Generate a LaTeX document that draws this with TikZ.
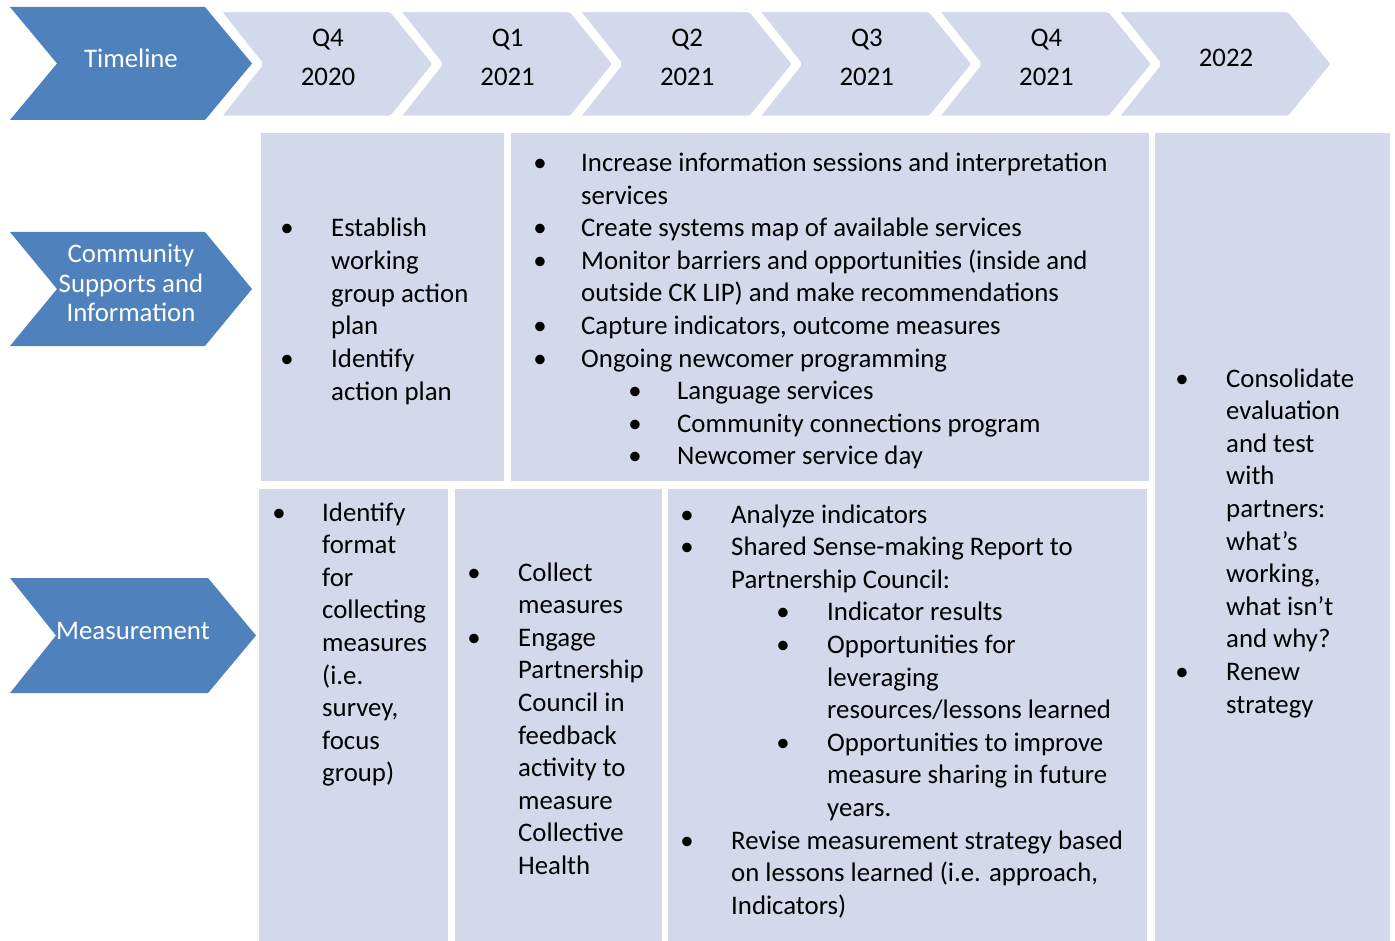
\documentclass[tikz,border=0pt]{standalone}
\usepackage{fontspec}
\setmainfont{Carlito}
\definecolor{darkblue}{RGB}{79,129,189}
\definecolor{lightbox}{RGB}{211,217,235}
\newcommand\bodyfont{\fontsize{26.8}{32.6}\selectfont}
\tikzset{
  txt/.style={anchor=base west, inner sep=0pt, font=\bodyfont, text=black},
  dot/.style={anchor=base, inner sep=0pt, font=\bodyfont, text=black},
  headtxt/.style={anchor=base, inner sep=0pt, font=\bodyfont, text=white},
  qtxt/.style={anchor=base, inner sep=0pt, font=\bodyfont, text=black},
  panel/.style={fill=lightbox, draw=none},
  darkchev/.style={fill=darkblue, draw=none},
  lightchev/.style={fill=lightbox, draw=white, line width=2.5pt, rounded corners=2pt},
}
% one text line and one bullet mark
\newcommand\tl[4]{\node[txt] (#1) at (#2,#3) {#4};}
\newcommand\bm[3]{\node[dot] (#1) at (#2,#3) {•};}
\def\ls{32.6}
\begin{document}
\begin{tikzpicture}[x=1pt,y=-1pt]
\useasboundingbox (0,0) rectangle (1395,941);
\fill[white] (0,0) rectangle (1395,941);

% ---------- timeline header ----------
\fill[darkchev] (10,7) -- (205,7) -- (252,63.5) -- (205,120) -- (10,120) -- (57,63.5) -- cycle;
\node[headtxt] (timeline) at (131,68) {Timeline};

\foreach \i/\xo in {0/220,1/399.6,2/579.2,3/758.8,4/938.4,5/1118}{
  \draw[lightchev] (\xo,11) -- (\xo+171,11) -- (\xo+214,64) -- (\xo+171,117) -- (\xo,117) -- (\xo+42,64) -- cycle;
}
\node[qtxt] (q4a) at (328,47) {Q4};
\node[qtxt] (y20) at (328,86) {2020};
\node[qtxt] (q1) at (507.6,47) {Q1};
\node[qtxt] (y21a) at (507.6,86) {2021};
\node[qtxt] (q2) at (687.2,47) {Q2};
\node[qtxt] (y21b) at (687.2,86) {2021};
\node[qtxt] (q3) at (866.8,47) {Q3};
\node[qtxt] (y21c) at (866.8,86) {2021};
\node[qtxt] (q4b) at (1046.4,47) {Q4};
\node[qtxt] (y21d) at (1046.4,86) {2021};
\node[qtxt] (y22) at (1226,67) {2022};

% ---------- row headers ----------
\fill[darkchev] (10,232) -- (205,232) -- (252,289) -- (205,346) -- (10,346) -- (57,289) -- cycle;
\node[headtxt] (comm1) at (131,263) {Community};
\node[headtxt] (comm2) at (131,292.6) {Supports and};
\node[headtxt] (comm3) at (131,322) {Information};

\fill[darkchev] (10,578) -- (208,578) -- (256,635.5) -- (208,693) -- (10,693) -- (56,635.5) -- cycle;
\node[headtxt] (meas) at (133,639.5) {Measurement};

% ---------- panels ----------
\fill[panel] (261,133) rectangle (504,481);
\fill[panel] (511,133) rectangle (1149,481);
\fill[panel] (1155,133) rectangle (1390,941);
\fill[panel] (259,489) rectangle (448,941);
\fill[panel] (455,489) rectangle (662,941);
\fill[panel] (668,489) rectangle (1147,941);

% ---------- Q4 2020: community ----------
\def\y{237}
\bm{a0}{287}{\y}
\tl{a1}{331}{\y}{Establish}
\tl{a2}{331}{\y+1*\ls}{working}
\tl{a3}{331}{\y+2*\ls}{group action}
\tl{a4}{331}{\y+3*\ls}{plan}
\bm{a5}{287}{\y+4*\ls}
\tl{a6}{331}{\y+4*\ls}{Identify}
\tl{a7}{331}{\y+5*\ls}{action plan}

% ---------- 2021: community ----------
\def\y{171.5}
\bm{b0}{540}{\y}
\tl{b1}{581}{\y}{Increase information sessions and interpretation}
\tl{b2}{581}{\y+1*\ls}{services}
\bm{b3}{540}{\y+2*\ls}
\tl{b4}{581}{\y+2*\ls}{Create systems map of available services}
\bm{b5}{540}{\y+3*\ls}
\tl{b6}{581}{\y+3*\ls}{Monitor barriers and opportunities (inside and}
\tl{b7}{581}{\y+4*\ls}{outside CK LIP) and make recommendations}
\bm{b8}{540}{\y+5*\ls}
\tl{b9}{581}{\y+5*\ls}{Capture indicators, outcome measures}
\bm{b10}{540}{\y+6*\ls}
\tl{b11}{581}{\y+6*\ls}{Ongoing newcomer programming}
\bm{b12}{635}{\y+7*\ls}
\tl{b13}{677}{\y+7*\ls}{Language services}
\bm{b14}{635}{\y+8*\ls}
\tl{b15}{677}{\y+8*\ls}{Community connections program}
\bm{b16}{635}{\y+9*\ls}
\tl{b17}{677}{\y+9*\ls}{Newcomer service day}

% ---------- 2022 ----------
\def\y{387}
\bm{c0}{1182}{\y}
\tl{c1}{1226}{\y}{Consolidate}
\tl{c2}{1226}{\y+1*\ls}{evaluation}
\tl{c3}{1226}{\y+2*\ls}{and test}
\tl{c4}{1226}{\y+3*\ls}{with}
\tl{c5}{1226}{\y+4*\ls}{partners:}
\tl{c6}{1226}{\y+5*\ls}{what’s}
\tl{c7}{1226}{\y+6*\ls}{working,}
\tl{c8}{1226}{\y+7*\ls}{what isn’t}
\tl{c9}{1226}{\y+8*\ls}{and why?}
\bm{c10}{1182}{\y+9*\ls}
\tl{c11}{1226}{\y+9*\ls}{Renew}
\tl{c12}{1226}{\y+10*\ls}{strategy}

% ---------- Q4 2020: measurement ----------
\def\y{521}
\bm{d0}{279}{\y}
\tl{d1}{322}{\y}{Identify}
\tl{d2}{322}{\y+1*\ls}{format}
\tl{d3}{322}{\y+2*\ls}{for}
\tl{d4}{322}{\y+3*\ls}{collecting}
\tl{d5}{322}{\y+4*\ls}{measures}
\tl{d6}{322}{\y+5*\ls}{(i.e.}
\tl{d7}{322}{\y+6*\ls}{survey,}
\tl{d8}{322}{\y+7*\ls}{focus}
\tl{d9}{322}{\y+8*\ls}{group)}

% ---------- Q1 2021: measurement ----------
\def\y{581}
\bm{e0}{474}{\y}
\tl{e1}{518}{\y}{Collect}
\tl{e2}{518}{\y+1*\ls}{measures}
\bm{e3}{474}{\y+2*\ls}
\tl{e4}{518}{\y+2*\ls}{Engage}
\tl{e5}{518}{\y+3*\ls}{Partnership}
\tl{e6}{518}{\y+4*\ls}{Council in}
\tl{e7}{518}{\y+5*\ls}{feedback}
\tl{e8}{518}{\y+6*\ls}{activity to}
\tl{e9}{518}{\y+7*\ls}{measure}
\tl{e10}{518}{\y+8*\ls}{Collective}
\tl{e11}{518}{\y+9*\ls}{Health}

% ---------- Q2--Q4 2021: measurement ----------
\def\y{523}
\bm{f0}{687}{\y}
\tl{f1}{731}{\y}{Analyze indicators}
\bm{f2}{687}{\y+1*\ls}
\tl{f3}{731}{\y+1*\ls}{Shared Sense-making Report to}
\tl{f4}{731}{\y+2*\ls}{Partnership Council:}
\bm{f5}{783}{\y+3*\ls}
\tl{f6}{827}{\y+3*\ls}{Indicator results}
\bm{f7}{783}{\y+4*\ls}
\tl{f8}{827}{\y+4*\ls}{Opportunities for}
\tl{f9}{827}{\y+5*\ls}{leveraging}
\tl{f10}{827}{\y+6*\ls}{resources/lessons learned}
\bm{f11}{783}{\y+7*\ls}
\tl{f12}{827}{\y+7*\ls}{Opportunities to improve}
\tl{f13}{827}{\y+8*\ls}{measure sharing in future}
\tl{f14}{827}{\y+9*\ls}{years.}
\bm{f15}{687}{\y+10*\ls}
\tl{f16}{731}{\y+10*\ls}{Revise measurement strategy based}
\tl{f17}{731}{\y+11*\ls}{on lessons learned (i.e. approach,}
\tl{f18}{731}{\y+12*\ls}{Indicators)}
\end{tikzpicture}
\end{document}
